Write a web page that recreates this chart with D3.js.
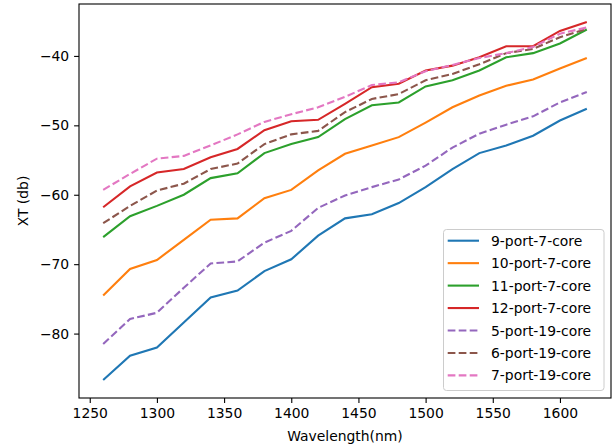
<!DOCTYPE html>
<html>
<head>
<meta charset="utf-8">
<script src="https://cdn.jsdelivr.net/npm/d3@7"></script>
<style>
  body { margin: 0; background: #fff; }
  .chart text { font-family: 'DejaVu Sans', sans-serif; fill: #000; }
</style>
</head>
<body>
<div class="chart"></div>
<script>
const wavelengths = [1260, 1280, 1300, 1320, 1340, 1360, 1380, 1400, 1420, 1440,
  1460, 1480, 1500, 1520, 1540, 1560, 1580, 1600, 1620];

const seriesNames = ['9-port-7-core', '10-port-7-core', '11-port-7-core', '12-port-7-core',
  '5-port-19-core', '6-port-19-core', '7-port-19-core'];

const port9core7 = [-86.7, -83.2, -82.0, -78.4, -74.8, -73.8, -71.0, -69.3, -65.9, -63.4,
  -62.8, -61.2, -58.9, -56.3, -54.0, -52.9, -51.5, -49.3, -47.6];
const port10core7 = [-74.5, -70.7, -69.4, -66.5, -63.6, -63.4, -60.5, -59.3, -56.5, -54.1,
  -52.9, -51.7, -49.6, -47.4, -45.7, -44.3, -43.4, -41.8, -40.3];
const port11core7 = [-66.1, -63.1, -61.6, -60.0, -57.6, -56.9, -54.0, -52.7, -51.7, -49.1,
  -47.1, -46.7, -44.4, -43.5, -42.1, -40.2, -39.6, -38.2, -36.2];
const port12core7 = [-61.8, -58.8, -56.8, -56.3, -54.6, -53.4, -50.7, -49.4, -49.2, -46.9,
  -44.5, -44.0, -42.1, -41.4, -40.2, -38.6, -38.6, -36.4, -35.1];
const port5core19 = [-81.5, -77.9, -77.0, -73.4, -69.9, -69.6, -66.9, -65.2, -61.9, -60.1,
  -58.9, -57.8, -55.8, -53.2, -51.2, -49.9, -48.7, -46.7, -45.2];
const port6core19 = [-64.1, -61.6, -59.4, -58.4, -56.3, -55.5, -52.7, -51.3, -50.8, -48.1,
  -46.2, -45.5, -43.5, -42.6, -41.2, -39.6, -39.0, -37.3, -36.1];
const port7core19 = [-59.3, -57.0, -54.8, -54.4, -52.9, -51.3, -49.5, -48.4, -47.4, -45.9,
  -44.2, -43.8, -42.2, -41.3, -40.3, -39.6, -38.7, -36.8, -35.9];

const xTicks = [1250, 1300, 1350, 1400, 1450, 1500, 1550, 1600];
const yTicks = [-80, -70, -60, -50, -40];

const colors = ['#1f77b4', '#ff7f0e', '#2ca02c', '#d62728', '#9467bd', '#8c564b', '#e377c2'];
const dashed = [false, false, false, false, true, true, true];

function displayChart() {
  const values = [port9core7, port10core7, port11core7, port12core7, port5core19, port6core19, port7core19];
  const series = seriesNames.map((name, i) => ({
    name: name,
    color: colors[i],
    dashed: dashed[i],
    points: wavelengths.map((w, j) => [w, values[i][j]])
  }));

  const w = 613;
  const h = 446;
  const padding = {
    top: 4,
    right: 2,
    bottom: 48,
    left: 79
  };
  const fontSize = 13.9;

  const xMin = d3.min(wavelengths);
  const xMax = d3.max(wavelengths);
  const xPad = (xMax - xMin) * 0.05;
  const yMin = d3.min(values, (v) => d3.min(v));
  const yMax = d3.max(values, (v) => d3.max(v));
  const yPad = (yMax - yMin) * 0.05;

  const xScale = d3.scaleLinear()
    .domain([xMin - xPad, xMax + xPad])
    .range([padding.left, w - padding.right]);
  const yScale = d3.scaleLinear()
    .domain([yMin - yPad, yMax + yPad])
    .range([h - padding.bottom, padding.top]);

  const svg = d3.select('.chart')
    .append('svg')
    .attr('width', w)
    .attr('height', h);

  const line = d3.line()
    .x((d) => xScale(d[0]))
    .y((d) => yScale(d[1]));

  svg.append('g')
    .selectAll('path')
    .data(series)
    .enter()
    .append('path')
    .attr('d', (d) => line(d.points))
    .attr('fill', 'none')
    .attr('stroke', (d) => d.color)
    .attr('stroke-width', 2.1)
    .attr('stroke-dasharray', (d) => d.dashed ? '7.7,3.3' : null);

  // frame
  svg.append('rect')
    .attr('x', padding.left)
    .attr('y', padding.top)
    .attr('width', w - padding.left - padding.right)
    .attr('height', h - padding.top - padding.bottom)
    .attr('fill', 'none')
    .attr('stroke', '#000')
    .attr('stroke-width', 1.1);

  const xAxis = svg.append('g')
    .attr('class', 'x-axis')
    .attr('transform', `translate(0, ${h - padding.bottom})`)
    .call(d3.axisBottom(xScale).tickValues(xTicks).tickFormat(d3.format('d'))
      .tickSize(4.9).tickPadding(4.9));

  const yAxis = svg.append('g')
    .attr('class', 'y-axis')
    .attr('transform', `translate(${padding.left}, 0)`)
    .call(d3.axisLeft(yScale).tickValues(yTicks).tickSize(4.9).tickPadding(4.9));

  [xAxis, yAxis].forEach((g) => {
    g.select('.domain').remove();
    g.selectAll('.tick line').attr('stroke', '#000').attr('stroke-width', 1.1);
    g.selectAll('.tick text')
      .attr('font-size', fontSize)
      .attr('font-family', 'DejaVu Sans, sans-serif')
      .attr('fill', '#000');
  });

  svg.append('text')
    .attr('x', (padding.left + w - padding.right) / 2)
    .attr('y', 441)
    .attr('text-anchor', 'middle')
    .attr('font-size', fontSize)
    .text('Wavelength(nm)');

  svg.append('text')
    .attr('transform', 'rotate(-90)')
    .attr('x', -(padding.top + h - padding.bottom) / 2)
    .attr('y', 28)
    .attr('text-anchor', 'middle')
    .attr('font-size', fontSize)
    .text('XT (db)');

  // legend
  const legend = svg.append('g')
    .attr('transform', 'translate(443.5, 229.5)');

  legend.append('rect')
    .attr('width', 160.5)
    .attr('height', 161)
    .attr('rx', 3)
    .attr('fill', '#fff')
    .attr('fill-opacity', 0.8)
    .attr('stroke', '#cccccc')
    .attr('stroke-width', 1);

  const rows = legend.selectAll('.row')
    .data(series)
    .enter()
    .append('g')
    .attr('class', 'row')
    .attr('transform', (d, i) => `translate(0, ${11.2 + i * 22.45})`);

  rows.append('line')
    .attr('x1', 4.2)
    .attr('x2', 35.5)
    .attr('stroke', (d) => d.color)
    .attr('stroke-width', 2.1)
    .attr('stroke-dasharray', (d) => d.dashed ? '7.7,3.3' : null);

  rows.append('text')
    .attr('x', 47.5)
    .attr('dy', '0.36em')
    .attr('font-size', fontSize)
    .text((d) => d.name);
}

displayChart();
</script>
</body>
</html>
